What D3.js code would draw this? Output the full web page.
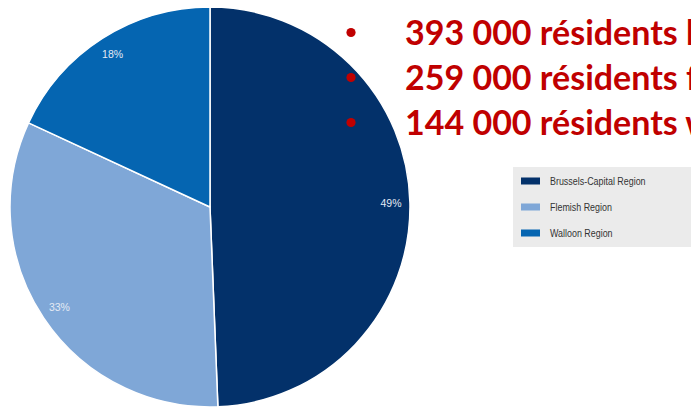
<!DOCTYPE html>
<html><head><meta charset="utf-8">
<script src="https://cdn.jsdelivr.net/npm/d3@7"></script>
<style>
html,body{margin:0;padding:0;background:#fff;overflow:hidden}
svg{display:block}
</style></head>
<body>
<svg id="c" width="691" height="408"></svg>
<script>
const categories = ["Brussels-Capital Region", "Flemish Region", "Walloon Region"];
const residents = [393000, 259000, 144000];
const percentLabels = ["49%", "33%", "18%"];
const colors = ["#03316a", "#7fa7d7", "#0565b1"];
const bulletLines = ["393 000 résidents bruxellois", "259 000 résidents flamands", "144 000 résidents wallons"];
const headerLine = "Sur 796 000 travailleurs à Bruxelles :";

const svg = d3.select("#c");
const cx = 210, cy = 207, R = 200;

const pie = d3.pie().sort(null).value(d => d)(residents);
const arc = d3.arc().innerRadius(0).outerRadius(R);
const labelArc = d3.arc().innerRadius(181).outerRadius(181);

const g = svg.append("g").attr("transform", `translate(${cx},${cy})`);
g.selectAll("path").data(pie).join("path")
  .attr("d", arc)
  .attr("fill", (d, i) => colors[i])
  .attr("stroke", "#ffffff")
  .attr("stroke-width", 1.5)
  .attr("stroke-linejoin", "round");

g.selectAll("text.lbl").data(pie).join("text")
  .attr("class", "lbl")
  .attr("transform", d => `translate(${labelArc.centroid(d)})`)
  .attr("text-anchor", "middle")
  .attr("dominant-baseline", "central")
  .attr("font-family", "'Liberation Sans', Arial, sans-serif")
  .attr("font-size", 10.5)
  .attr("fill", "#e4eaf4")
  .text((d, i) => percentLabels[i]);

// Red bullet text
const red = "#c00000";
svg.append("text")
  .attr("x", 365).attr("y", 0.4)
  .attr("font-family", "Lato, 'Open Sans', sans-serif")
  .attr("font-weight", "bold")
  .attr("font-size", 34)
  .attr("fill", red)
  .attr("fill-opacity", 0.85)
  .text(headerLine);

const lineY = d3.scaleLinear().domain([0, 1]).range([45, 90]);
const bl = svg.append("g");
bl.selectAll("circle").data(bulletLines).join("circle")
  .attr("cx", 351)
  .attr("cy", (d, i) => lineY(i) - 12.5)
  .attr("r", 4.6)
  .attr("fill", red);
bl.selectAll("text").data(bulletLines).join("text")
  .attr("x", 405)
  .attr("y", (d, i) => lineY(i))
  .attr("font-family", "Lato, 'Open Sans', sans-serif")
  .attr("font-weight", "bold")
  .attr("font-size", 34)
  .attr("fill", red)
  .text(d => d);

// Legend
const leg = svg.append("g");
leg.append("rect")
  .attr("x", 513).attr("y", 167).attr("width", 178).attr("height", 80)
  .attr("fill", "#ebebeb");
const legY = d3.scalePoint().domain(categories).range([181, 233]);
leg.selectAll("rect.sw").data(categories).join("rect")
  .attr("class", "sw")
  .attr("x", 521).attr("y", d => legY(d) - 3.5)
  .attr("width", 19).attr("height", 7)
  .attr("fill", (d, i) => colors[i]);
leg.selectAll("text").data(categories).join("text")
  .attr("x", 550).attr("y", d => legY(d))
  .attr("dominant-baseline", "central")
  .attr("font-family", "'Liberation Sans', Arial, sans-serif")
  .attr("font-size", 11)
  .attr("fill", "#333333")
  .text(d => d)
  .each(function() {
    const w = this.getComputedTextLength();
    d3.select(this).attr("textLength", w * 0.81).attr("lengthAdjust", "spacingAndGlyphs");
  });
</script>
</body></html>
